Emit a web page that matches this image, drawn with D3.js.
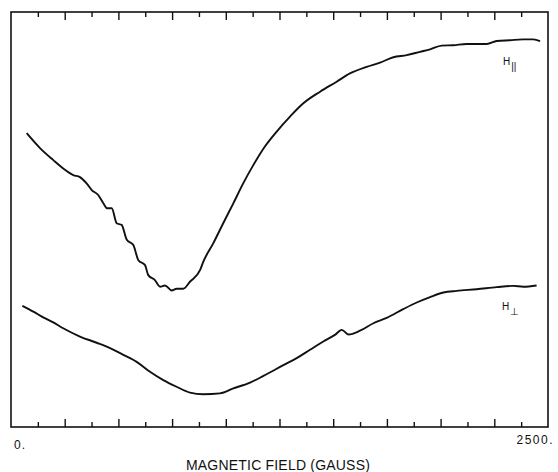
<!DOCTYPE html>
<html>
<head>
<meta charset="utf-8">
<script src="https://cdn.jsdelivr.net/npm/d3@7"></script>
<style>
  html, body { margin: 0; padding: 0; background: #fff; }
  svg { display: block; font-family: "Liberation Sans", Arial, Helvetica, sans-serif; }
</style>
</head>
<body>
<svg id="chart" width="558" height="472"></svg>
<script>
// ── Data ──────────────────────────────────────────────────────────────────────
// field in gauss, signal in arbitrary units (0–100 over the frame height)
const parField = [73, 135, 197, 243, 290, 321, 352, 376, 406, 430, 448, 469, 492, 515, 539, 569, 593, 624, 639, 670, 694, 717, 748, 771, 802, 833, 880, 895, 942, 988, 1035, 1081, 1128, 1182, 1237, 1299, 1361, 1439, 1516, 1578, 1656, 1718, 1780, 1842, 1904, 1951, 2005, 2059, 2121, 2215, 2261, 2323, 2385, 2432, 2463];
const parSignal = [70.8, 67.2, 64.3, 62.3, 60.7, 60.2, 58.7, 57.1, 55.9, 53.9, 52.7, 52.7, 49.1, 48.7, 45.1, 43.9, 40.2, 39.0, 36.6, 35.4, 33.8, 34.1, 32.9, 33.3, 33.3, 35.0, 37.8, 39.8, 44.3, 49.1, 53.9, 58.7, 63.1, 67.6, 71.2, 74.8, 78.0, 80.8, 83.2, 85.2, 86.8, 87.8, 89.1, 89.6, 90.4, 91.0, 91.9, 92.0, 92.3, 92.3, 93.0, 93.2, 93.4, 93.4, 93.0];

const perpField = [53, 104, 150, 197, 243, 321, 399, 461, 523, 585, 647, 709, 771, 833, 895, 973, 1035, 1113, 1175, 1268, 1330, 1392, 1454, 1508, 1540, 1571, 1625, 1687, 1749, 1826, 1889, 1951, 2013, 2075, 2168, 2261, 2338, 2385, 2447];
const perpSignal = [29.2, 27.8, 26.4, 25.2, 23.8, 21.8, 20.3, 19.0, 17.4, 15.7, 13.3, 11.3, 9.7, 8.3, 7.9, 8.1, 9.3, 10.7, 12.3, 14.9, 16.6, 18.6, 20.6, 22.2, 23.4, 22.3, 23.2, 25.0, 26.3, 28.4, 30.0, 31.3, 32.4, 32.8, 33.2, 33.7, 34.0, 33.8, 34.1];

const majorTicks = [250, 500, 750, 1000, 1250, 1500, 1750, 2000, 2250];
const minorTicks = [125, 375, 625, 875, 1125, 1375, 1625, 1875, 2125, 2375];
const endLabels  = ['0.', '2500.'];
const axisTitle  = 'MAGNETIC FIELD (GAUSS)';
const seriesLabels = [
  { name: 'H', sub: '||', field: 2290, signal: 87.2 },
  { name: 'H', sub: '⊥',  field: 2286, signal: 28.2 },
];

// ── Layout ────────────────────────────────────────────────────────────────────
const M = { left: 11, top: 12, right: 10, bottom: 45 };
const W = 558, H = 472;
const iw = W - M.left - M.right;   // 537
const ih = H - M.top - M.bottom;   // 415

const svg = d3.select('#chart');
const g = svg.append('g').attr('transform', `translate(${M.left},${M.top})`);

const x = d3.scaleLinear().domain([0, 2500]).range([0, iw]);
const y = d3.scaleLinear().domain([0, 100]).range([ih, 0]);

// ── Frame ─────────────────────────────────────────────────────────────────────
g.append('rect')
  .attr('width', iw).attr('height', ih)
  .attr('fill', 'none').attr('stroke', '#111').attr('stroke-width', 1.6);

// ── Ticks (inward, top and bottom) ───────────────────────────────────────────
function tickAxis(axisFn, values, len, ty) {
  const a = g.append('g')
    .attr('transform', `translate(0,${ty})`)
    .call(axisFn(x).tickValues(values).tickSize(-len).tickFormat(''));
  a.select('.domain').remove();
  a.selectAll('.tick line').attr('stroke', '#111').attr('stroke-width', 1.4);
}
tickAxis(d3.axisBottom, majorTicks, 8, ih);
tickAxis(d3.axisBottom, minorTicks, 5, ih);
tickAxis(d3.axisTop, majorTicks, 8, 0);
tickAxis(d3.axisTop, minorTicks, 5, 0);

// ── Curves ────────────────────────────────────────────────────────────────────
const line = d3.line().curve(d3.curveMonotoneX).x(d => x(d[0])).y(d => y(d[1]));
[[parField, parSignal], [perpField, perpSignal]].forEach(([fx, sy]) => {
  g.append('path')
    .datum(d3.zip(fx, sy))
    .attr('d', line)
    .attr('fill', 'none')
    .attr('stroke', '#111')
    .attr('stroke-width', 1.9)
    .attr('stroke-linejoin', 'round');
});

// ── Series labels ─────────────────────────────────────────────────────────────
seriesLabels.forEach(s => {
  const t = g.append('text')
    .attr('x', x(s.field)).attr('y', y(s.signal))
    .attr('font-size', 10).attr('fill', '#111')
    .text(s.name);
  t.append('tspan').attr('dy', 5).attr('dx', 1).attr('font-size', 10).text(s.sub);
});

// ── Axis labels ───────────────────────────────────────────────────────────────
svg.append('text')
  .attr('x', x(0) + M.left + 3).attr('y', 449)
  .attr('font-size', 12).attr('letter-spacing', 1).attr('fill', '#111')
  .text(endLabels[0]);
svg.append('text')
  .attr('x', x(2500) + M.left + 6).attr('y', 444)
  .attr('text-anchor', 'end')
  .attr('font-size', 12).attr('letter-spacing', 1.5).attr('fill', '#111')
  .text(endLabels[1]);
svg.append('text')
  .attr('x', 278).attr('y', 470)
  .attr('text-anchor', 'middle')
  .attr('font-size', 14).attr('letter-spacing', 0.2).attr('fill', '#111')
  .text(axisTitle);
</script>
</body>
</html>
